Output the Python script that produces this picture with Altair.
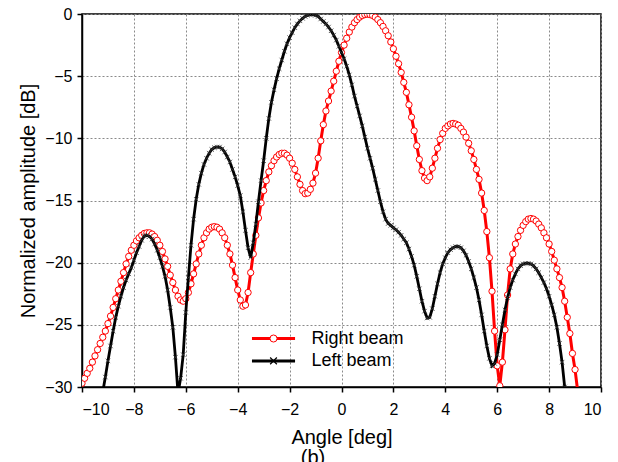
import altair as alt
import numpy as np
import pandas as pd

STEP = 0.1

RIGHT_START = -10.0
RIGHT_DB = [
    -29.7, -29.3, -28.9, -28.5, -28.0, -27.5, -27.0, -26.5, -26.0, -25.5,
    -24.9, -24.3, -23.6, -22.9, -22.2, -21.5, -20.8, -20.1, -19.5, -19.0,
    -18.6, -18.25, -18.0, -17.8, -17.65, -17.6, -17.6, -17.7, -17.9, -18.2,
    -18.6, -19.1, -19.7, -20.3, -21.0, -21.6, -22.2, -22.7, -23.0, -23.1,
    -22.9, -22.4, -21.7, -20.9, -20.1, -19.3, -18.6, -18.0, -17.6, -17.3,
    -17.15, -17.1, -17.15, -17.3, -17.6, -18.0, -18.6, -19.3, -20.2, -21.2,
    -22.2, -23.0, -23.5, -23.4, -22.4, -20.8, -19.3, -17.8, -16.4, -15.2,
    -14.2, -13.4, -12.7, -12.2, -11.8, -11.5, -11.3, -11.2, -11.2, -11.35,
    -11.6, -12.0, -12.5, -13.1, -13.7, -14.2, -14.45, -14.4, -14.1, -13.6,
    -12.8, -11.6, -10.2, -8.9, -7.8, -7.0, -6.2, -5.4, -4.6, -3.8,
    -3.1, -2.5, -1.95, -1.45, -1.05, -0.7, -0.45, -0.25, -0.12, -0.05,
    -0.02, -0.05, -0.12, -0.25, -0.45, -0.7, -1.0, -1.35, -1.75, -2.25,
    -2.8, -3.4, -4.0, -4.7, -5.5, -6.3, -7.3, -8.3, -9.4, -10.6,
    -11.7, -12.6, -13.2, -13.4, -13.1, -12.4, -11.6, -10.8, -10.1, -9.6,
    -9.2, -9.0, -8.85, -8.8, -8.85, -8.95, -9.2, -9.5, -9.9, -10.4,
    -11.0, -11.7, -12.5, -13.3, -14.4, -15.8, -17.5, -19.6, -22.3, -25.5,
    -28.3, -29.9, -28.0, -25.4, -22.6, -20.5, -19.3, -18.5, -17.9, -17.4,
    -17.0, -16.7, -16.5, -16.45, -16.5, -16.65, -16.9, -17.2, -17.6, -18.0,
    -18.5, -19.1, -19.8, -20.5, -21.2, -22.0, -23.1, -24.4, -25.7, -27.3,
    -28.6, -30.3, -32.0,
]

LEFT_START = -9.2
LEFT_DB = [
    -30.4, -29.2, -27.9, -26.7, -25.5, -24.4, -23.5, -22.7, -22.0, -21.4,
    -20.9, -20.4, -19.8, -19.2, -18.7, -18.2, -17.85, -17.8, -17.9, -18.1,
    -18.5, -19.0, -19.6, -20.3, -21.1, -22.2, -23.6, -25.2, -27.6, -30.5,
    -29.3, -27.4, -24.0, -21.2, -18.6, -16.5, -14.9, -13.7, -12.8, -12.1,
    -11.6, -11.2, -10.9, -10.75, -10.7, -10.7, -10.85, -11.1, -11.5, -11.9,
    -12.5, -13.1, -13.8, -14.6, -15.9, -17.4, -18.8, -19.6, -18.4, -16.9,
    -15.1, -13.4, -11.8, -10.0, -8.4, -7.1, -6.1, -5.2, -4.4, -3.7,
    -3.0, -2.4, -1.9, -1.5, -1.1, -0.8, -0.55, -0.35, -0.2, -0.1,
    -0.05, -0.05, -0.1, -0.2, -0.4, -0.6, -0.8, -1.05, -1.35, -1.7,
    -2.1, -2.6, -3.1, -3.6, -4.2, -4.9, -5.7, -6.6, -7.4, -8.2,
    -9.0, -9.9, -10.8, -11.6, -12.4, -13.3, -14.2, -15.1, -15.9, -16.5,
    -16.85, -17.0, -17.2, -17.35, -17.55, -17.8, -18.1, -18.4, -18.9, -19.5,
    -20.2, -21.1, -22.1, -23.1, -23.9, -24.45, -24.4, -23.7, -22.7, -21.7,
    -20.8, -20.1, -19.6, -19.2, -18.95, -18.8, -18.7, -18.7, -18.8, -19.05,
    -19.4, -19.9, -20.5, -21.2, -22.0, -23.0, -24.2, -25.5, -26.7, -27.7,
    -28.3, -28.1, -27.4, -26.2, -25.0, -23.8, -22.8, -22.0, -21.4, -20.9,
    -20.5, -20.25, -20.1, -20.05, -20.05, -20.1, -20.25, -20.5, -20.8, -21.2,
    -21.6, -22.1, -22.7, -23.4, -24.2, -25.2, -26.5, -28.0, -30.0,
]

SERIES_NAMES = ["Right beam", "Left beam"]
X_TICKS = list(range(-10, 11))
Y_TICKS = [-30 + 2.5 * i for i in range(13)]
X_TITLE = "Angle [deg]"
Y_TITLE = "Normalized amplitude [dB]"
CAPTION = "(b)"

# legend placement (data units)
LEG_X0, LEG_X1, LEG_XM, LEG_TX = -3.45, -1.79, -2.62, -1.16
LEG_Y = [-26.1, -27.9]


def series(start, vals, name):
    x = np.round(start + STEP * np.arange(len(vals)), 1)
    return pd.DataFrame({"angle": x, "db": vals, "beam": name})


right = series(RIGHT_START, RIGHT_DB, SERIES_NAMES[0])
left = series(LEFT_START, LEFT_DB, SERIES_NAMES[1])

leg = pd.DataFrame({
    "x0": [LEG_X0, LEG_X0], "x1": [LEG_X1, LEG_X1], "xm": [LEG_XM, LEG_XM],
    "tx": [LEG_TX, LEG_TX], "y": LEG_Y, "label": SERIES_NAMES,
})

FONT = "Liberation Sans"
X_CROSS = "M-1,-1L1,1M-1,1L1,-1"

xs = alt.Scale(domain=[-10, 10], nice=False, zero=False)
ys = alt.Scale(domain=[-30, 0], nice=False, zero=False)

x_axis = alt.Axis(
    values=X_TICKS, title=X_TITLE,
    labelExpr="datum.value % 2 === 0 ? datum.label : ''",
    gridOpacity={"condition": {"test": "datum.value % 2 === 0", "value": 1}, "value": 0},
    labelPadding=9, titlePadding=10,
)
y_axis = alt.Axis(
    values=Y_TICKS, title=Y_TITLE,
    labelExpr="datum.value % 5 === 0 ? datum.label : ''",
    gridOpacity={"condition": {"test": "datum.value % 5 === 0", "value": 1}, "value": 0},
    labelPadding=5, titlePadding=6,
)

X = alt.X("angle:Q", scale=xs, axis=x_axis)
Y = alt.Y("db:Q", scale=ys, axis=y_axis)

r_line = alt.Chart(right).mark_line(color="#ff0000", strokeWidth=3, clip=True).encode(x=X, y=Y)
r_pts = alt.Chart(right).mark_point(
    shape="circle", filled=True, fill="white", stroke="#ff0000", strokeWidth=1,
    size=40, opacity=1, clip=True,
).encode(x="angle:Q", y="db:Q")
l_line = alt.Chart(left).mark_line(color="black", strokeWidth=2.8, clip=True).encode(x="angle:Q", y="db:Q")
l_pts = alt.Chart(left).mark_point(
    shape=X_CROSS, filled=False, stroke="#333333", strokeWidth=0.8, size=20, opacity=1, clip=True,
).encode(x="angle:Q", y="db:Q")

leg_r = leg.iloc[[0]]
leg_l = leg.iloc[[1]]
lr_rule = alt.Chart(leg_r).mark_rule(color="#ff0000", strokeWidth=3).encode(x="x0:Q", x2="x1:Q", y="y:Q")
lr_pt = alt.Chart(leg_r).mark_point(
    shape="circle", filled=True, fill="white", stroke="#ff0000", strokeWidth=1, size=50, opacity=1
).encode(x="xm:Q", y="y:Q")
ll_rule = alt.Chart(leg_l).mark_rule(color="black", strokeWidth=3).encode(x="x0:Q", x2="x1:Q", y="y:Q")
ll_pt = alt.Chart(leg_l).mark_point(
    shape=X_CROSS, filled=False, stroke="black", strokeWidth=1.2, size=45, opacity=1
).encode(x="xm:Q", y="y:Q")
leg_txt = alt.Chart(leg).mark_text(
    align="left", baseline="middle", fontSize=18, font=FONT, color="black"
).encode(x="tx:Q", y="y:Q", text="label:N")

# caption "(b)" below the axis title, partly cut by the window like the reference
cap = alt.Chart(pd.DataFrame({"t": [CAPTION]})).mark_text(
    align="center", baseline="top", fontSize=20, font=FONT, color="black", clip=False,
).encode(x=alt.value(231), y=alt.value(434), text="t:N")

chart = alt.layer(
    r_line, r_pts, l_line, l_pts, lr_rule, lr_pt, ll_rule, ll_pt, leg_txt, cap
).properties(
    width=519, height=373,
    padding={"left": 74, "top": 6, "right": 9, "bottom": 75},
    autosize="none",
).configure_view(
    stroke="black", strokeWidth=1.5,
).configure_axis(
    domainColor="black", domainWidth=1.5, tickColor="black", tickWidth=1.5, tickSize=5,
    labelFont=FONT, labelFontSize=16, labelColor="black",
    titleFont=FONT, titleFontSize=20, titleFontWeight="normal", titleColor="black",
    gridColor="#8a8a8a", gridDash=[2, 2], gridWidth=1,
)

chart.save("out.html", embed_options={"renderer": "svg", "actions": False})
